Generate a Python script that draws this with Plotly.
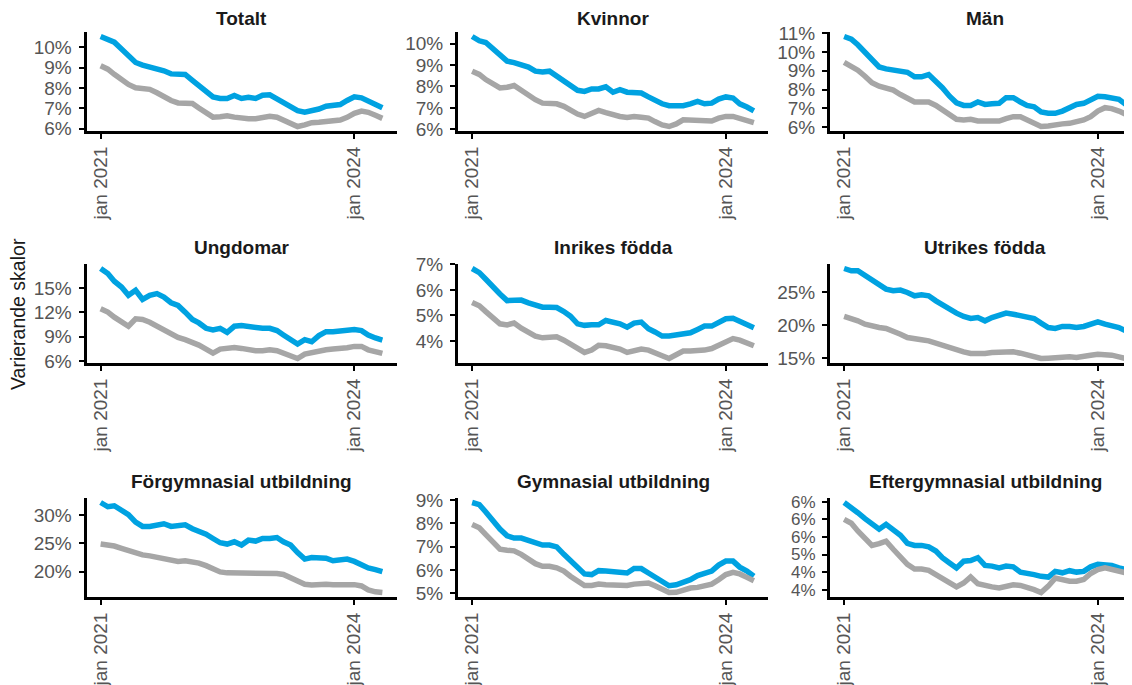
import pandas as pd
import plotly.graph_objects as go

# ---------------- data ----------------
months = pd.date_range("2021-01-01", "2024-05-01", freq="MS")
x_tick_vals = ["2021-01-01", "2024-01-01"]
x_tick_labels = ["jan 2021", "jan 2024"]

titles = ["Totalt", "Kvinnor", "Män",
          "Ungdomar", "Inrikes födda", "Utrikes födda",
          "Förgymnasial utbildning", "Gymnasial utbildning", "Eftergymnasial utbildning"]

blue_totalt = [10.53, 10.38, 10.25, 9.92, 9.58, 9.25, 9.12, 9.04, 8.97, 8.84, 8.69, 8.67, 8.66, 8.37,
               8.12, 7.79, 7.56, 7.48, 7.48, 7.63, 7.48, 7.54, 7.48, 7.64, 7.66, 7.46, 7.26, 7.10,
               6.88, 6.81, 6.85, 6.96, 7.10, 7.15, 7.18, 7.38, 7.56, 7.51, 7.34, 7.18, 7.02]
grey_totalt = [9.09, 8.92, 8.67, 8.42, 8.17, 8.01, 7.96, 7.93, 7.76, 7.54, 7.38, 7.26, 7.26, 7.23,
               7.01, 6.76, 6.56, 6.58, 6.63, 6.56, 6.51, 6.48, 6.48, 6.54, 6.60, 6.56, 6.43, 6.27,
               6.10, 6.18, 6.29, 6.31, 6.33, 6.35, 6.42, 6.55, 6.75, 6.86, 6.80, 6.65, 6.50]

blue_kvinnor = [10.33, 10.13, 10.05, 9.76, 9.50, 9.18, 9.11, 9.00, 8.90, 8.71, 8.67, 8.71, 8.48, 8.24,
                8.04, 7.82, 7.77, 7.88, 7.88, 7.98, 7.73, 7.85, 7.73, 7.74, 7.69, 7.51, 7.35, 7.19,
                7.10, 7.07, 7.10, 7.19, 7.30, 7.19, 7.22, 7.41, 7.51, 7.46, 7.19, 7.04, 6.86]
grey_kvinnor = [8.71, 8.56, 8.32, 8.09, 7.93, 7.96, 8.04, 7.82, 7.57, 7.38, 7.22, 7.22, 7.19, 7.07,
                6.88, 6.71, 6.60, 6.71, 6.88, 6.78, 6.67, 6.60, 6.55, 6.60, 6.56, 6.52, 6.36, 6.20,
                6.13, 6.25, 6.44, 6.44, 6.41, 6.39, 6.39, 6.52, 6.60, 6.60, 6.49, 6.39, 6.31]

blue_man = [10.82, 10.68, 10.38, 9.98, 9.59, 9.20, 9.10, 9.06, 9.03, 8.92, 8.68, 8.68, 8.80, 8.45,
            8.10, 7.65, 7.30, 7.16, 7.16, 7.34, 7.21, 7.25, 7.27, 7.57, 7.57, 7.34, 7.16, 7.09,
            6.81, 6.74, 6.74, 6.86, 7.04, 7.21, 7.27, 7.44, 7.65, 7.62, 7.57, 7.48, 7.21]
grey_man = [9.45, 9.27, 9.03, 8.71, 8.36, 8.18, 8.10, 7.97, 7.74, 7.51, 7.34, 7.34, 7.34, 7.16,
            6.92, 6.63, 6.42, 6.39, 6.42, 6.33, 6.33, 6.33, 6.33, 6.46, 6.56, 6.56, 6.42, 6.21,
            6.04, 6.07, 6.14, 6.18, 6.21, 6.28, 6.39, 6.56, 6.86, 7.04, 6.99, 6.86, 6.69]

blue_ungdomar = [17.39, 16.77, 15.82, 15.12, 14.09, 14.71, 13.59, 14.09, 14.30, 13.88, 13.18, 12.85,
                 12.03, 11.12, 10.70, 10.04, 9.84, 10.04, 9.55, 10.29, 10.37, 10.25, 10.04, 10.04,
                 10.04, 9.76, 9.22, 8.72, 8.10, 8.64, 8.39, 9.14, 9.63, 9.63, 9.76, 9.88, 9.88,
                 9.76, 9.22, 8.85, 8.60]
grey_ungdomar = [12.44, 12.03, 11.41, 10.79, 10.29, 11.20, 11.12, 10.79, 10.29, 9.76, 9.22, 8.93,
                 8.64, 8.31, 7.98, 7.49, 6.99, 7.49, 7.57, 7.69, 7.57, 7.40, 7.28, 7.28, 7.40, 7.28,
                 6.99, 6.66, 6.33, 6.87, 7.07, 7.28, 7.40, 7.49, 7.49, 7.65, 7.82, 7.82, 7.40,
                 7.20, 6.95]

blue_inrikes = [6.84, 6.68, 6.42, 6.10, 5.84, 5.58, 5.60, 5.60, 5.49, 5.38, 5.32, 5.32, 5.31, 5.15,
                4.97, 4.67, 4.61, 4.63, 4.63, 4.80, 4.74, 4.67, 4.54, 4.70, 4.74, 4.48, 4.35, 4.19,
                4.19, 4.22, 4.25, 4.32, 4.45, 4.58, 4.58, 4.71, 4.87, 4.89, 4.76, 4.67, 4.52]
grey_inrikes = [5.51, 5.38, 5.15, 4.89, 4.67, 4.63, 4.70, 4.50, 4.32, 4.19, 4.12, 4.16, 4.16, 4.03,
                3.86, 3.68, 3.55, 3.64, 3.83, 3.81, 3.75, 3.68, 3.55, 3.64, 3.68, 3.64, 3.51, 3.42,
                3.31, 3.47, 3.60, 3.60, 3.60, 3.64, 3.70, 3.83, 4.00, 4.09, 4.03, 3.90, 3.81]

blue_utrikes = [28.67, 28.32, 28.32, 27.55, 27.04, 26.28, 25.51, 25.26, 25.36, 25.00, 24.49, 24.64,
                24.49, 23.72, 23.06, 22.45, 21.84, 21.33, 21.02, 21.17, 20.66, 21.17, 21.53, 21.84,
                21.68, 21.43, 21.33, 21.02, 20.31, 19.64, 19.49, 19.80, 19.80, 19.64, 19.80, 20.26,
                20.51, 20.15, 19.90, 19.64, 19.13]
grey_utrikes = [21.33, 21.02, 20.66, 20.15, 19.80, 19.64, 19.49, 19.13, 18.62, 18.11, 17.86, 17.76,
                17.60, 17.24, 16.84, 16.43, 16.22, 15.92, 15.66, 15.56, 15.66, 15.82, 15.92, 15.92,
                15.92, 15.71, 15.41, 15.05, 14.90, 14.95, 15.05, 15.05, 15.15, 15.05, 15.15, 15.41,
                15.56, 15.56, 15.41, 15.15, 14.90]

blue_forgym = [32.20, 31.45, 31.62, 30.75, 30.06, 28.73, 27.98, 27.98, 28.32, 28.44, 27.98, 28.03,
               28.27, 27.57, 27.17, 26.59, 25.84, 25.09, 24.86, 25.26, 24.68, 25.55, 25.38, 25.84,
               25.84, 26.01, 25.26, 24.68, 23.35, 22.20, 22.49, 22.31, 22.37, 21.91, 21.97, 22.20,
               21.79, 21.21, 20.64, 20.35, 20.00]
grey_forgym = [24.86, 24.80, 24.51, 24.10, 23.70, 23.12, 22.95, 22.77, 22.54, 22.25, 21.97, 21.79,
               21.91, 21.79, 21.50, 21.04, 20.46, 19.94, 19.77, 19.77, 19.71, 19.65, 19.60, 19.71,
               19.71, 19.65, 19.48, 18.90, 18.32, 17.75, 17.63, 17.75, 17.75, 17.69, 17.69, 17.75,
               17.69, 17.46, 16.76, 16.42, 16.30]

blue_gym = [8.90, 8.81, 8.49, 8.10, 7.76, 7.47, 7.37, 7.37, 7.28, 7.18, 7.07, 7.07, 6.99, 6.67,
            6.41, 6.06, 5.83, 5.80, 5.97, 5.95, 5.92, 5.90, 5.87, 6.06, 6.06, 5.87, 5.68, 5.51,
            5.32, 5.36, 5.44, 5.58, 5.76, 5.83, 5.95, 6.21, 6.38, 6.38, 6.12, 5.95, 5.73]
grey_gym = [7.95, 7.81, 7.52, 7.18, 6.89, 6.85, 6.82, 6.67, 6.45, 6.27, 6.16, 6.16, 6.09, 5.95,
            5.73, 5.51, 5.33, 5.33, 5.39, 5.36, 5.33, 5.33, 5.33, 5.39, 5.44, 5.44, 5.32, 5.17,
            5.03, 5.04, 5.15, 5.22, 5.25, 5.29, 5.39, 5.58, 5.80, 5.90, 5.83, 5.68, 5.54]

blue_eftergym = [6.48, 6.34, 6.19, 6.02, 5.86, 5.72, 5.86, 5.72, 5.55, 5.32, 5.26, 5.26, 5.22, 5.10,
                 4.91, 4.76, 4.62, 4.81, 4.83, 4.91, 4.69, 4.67, 4.62, 4.67, 4.65, 4.50, 4.48, 4.43,
                 4.38, 4.36, 4.52, 4.48, 4.54, 4.50, 4.52, 4.65, 4.72, 4.72, 4.69, 4.62, 4.57]
grey_eftergym = [6.00, 5.89, 5.67, 5.45, 5.26, 5.31, 5.38, 5.15, 4.91, 4.72, 4.59, 4.59, 4.55, 4.43,
                 4.29, 4.17, 4.08, 4.19, 4.36, 4.17, 4.11, 4.08, 4.05, 4.11, 4.14, 4.12, 4.08, 4.00,
                 3.92, 4.10, 4.33, 4.27, 4.24, 4.24, 4.29, 4.46, 4.57, 4.62, 4.57, 4.51, 4.48]

y_ticks_totalt = [6, 7, 8, 9, 10]
y_ticks_kvinnor = [6, 7, 8, 9, 10]
y_ticks_man = [6, 7, 8, 9, 10, 11]
y_ticks_ungdomar = [6, 9, 12, 15]
y_ticks_inrikes = [4, 5, 6, 7]
y_ticks_utrikes = [15, 20, 25]
y_ticks_forgym = [20, 25, 30]
y_ticks_gym = [5, 6, 7, 8, 9]
y_ticks_eftergym = [4.0, 4.5, 5.0, 5.5, 6.0, 6.5]
y_labels_eftergym = ["4%", "4%", "5%", "6%", "6%", "6%"]

blue_series = [blue_totalt, blue_kvinnor, blue_man, blue_ungdomar, blue_inrikes, blue_utrikes,
               blue_forgym, blue_gym, blue_eftergym]
grey_series = [grey_totalt, grey_kvinnor, grey_man, grey_ungdomar, grey_inrikes, grey_utrikes,
               grey_forgym, grey_gym, grey_eftergym]
y_ticks = [y_ticks_totalt, y_ticks_kvinnor, y_ticks_man, y_ticks_ungdomar, y_ticks_inrikes,
           y_ticks_utrikes, y_ticks_forgym, y_ticks_gym, y_ticks_eftergym]
y_labels = [[f"{v:g}%" for v in t] for t in y_ticks[:8]] + [y_labels_eftergym]

# ---------------- layout / styling ----------------
PAGE_OFF = 8                     # default body margin of the html page
W, H = 1132 - PAGE_OFF, 685 - PAGE_OFF
BLUE = "#00a2e1"
GREY = "#a6a6a6"
FONT = "Liberation Sans, Arial, sans-serif"
TICK_COLOR = "#555555"

# positions in page pixels
col_x0 = [86.5, 458, 830]
panel_w = 310
row_y0 = [32, 264, 498]
panel_h = 99

x_start = months[0] - pd.Timedelta(days=61)
x_end_full = months[-1] + pd.Timedelta(days=61)
total_days = (x_end_full - x_start).days


def fx(px):
    return (px - PAGE_OFF) / W


def fy(py):
    return 1 - (py - PAGE_OFF) / H


fig = go.Figure()
annotations = []

for i in range(9):
    r, c = divmod(i, 3)
    n = i + 1
    xa = "x" if n == 1 else f"x{n}"
    ya = "y" if n == 1 else f"y{n}"

    x0 = col_x0[c]
    x1 = x0 + panel_w
    if x1 > W + PAGE_OFF:
        vis = W + PAGE_OFF - x0
        x_end = x_start + pd.Timedelta(days=total_days * vis / panel_w)
        x1 = W + PAGE_OFF
    else:
        x_end = x_end_full
    y_top = row_y0[r]
    y_bot = y_top + panel_h

    fig.add_trace(go.Scatter(x=months, y=blue_series[i], mode="lines", name="Serie 1",
                             line=dict(color=BLUE, width=5.5), xaxis=xa, yaxis=ya,
                             showlegend=False))
    fig.add_trace(go.Scatter(x=months, y=grey_series[i], mode="lines", name="Serie 2",
                             line=dict(color=GREY, width=5.5), xaxis=xa, yaxis=ya,
                             showlegend=False))

    lo = min(min(blue_series[i]), min(grey_series[i]))
    hi = max(max(blue_series[i]), max(grey_series[i]))
    pad = 0.05 * (hi - lo)

    ysize = 17 if i == 8 else 19
    xkey = "xaxis" if n == 1 else f"xaxis{n}"
    ykey = "yaxis" if n == 1 else f"yaxis{n}"
    fig.layout[xkey] = dict(
        domain=[fx(x0), min(1.0, fx(x1))], anchor=ya, type="date",
        range=[x_start, x_end], automargin=False,
        tickvals=x_tick_vals, ticktext=x_tick_labels, tickangle=-90,
        showline=True, linecolor="black", linewidth=3,
        ticks="outside", ticklen=5, tickwidth=2, tickcolor="black",
        showgrid=False, zeroline=False, ticklabelstandoff=0,
        tickfont=dict(family=FONT, size=19, color=TICK_COLOR),
    )
    fig.layout[ykey] = dict(
        domain=[fy(y_bot), fy(y_top)], anchor=xa, automargin=False,
        range=[lo - pad, hi + pad], tickvals=y_ticks[i], ticktext=y_labels[i],
        showline=True, linecolor="black", linewidth=3,
        ticks="outside", ticklen=5, tickwidth=2, tickcolor="black",
        showgrid=False, zeroline=False, ticklabelstandoff=3,
        tickfont=dict(family=FONT, size=ysize, color=TICK_COLOR),
    )

    title_y = max(y_top - 17, 18)
    annotations.append(dict(
        text=f"<b>{titles[i]}</b>", xref="paper", yref="paper",
        x=fx(col_x0[c] + panel_w / 2), y=fy(title_y),
        xanchor="center", yanchor="middle", showarrow=False,
        font=dict(family=FONT, size=19, color="#1a1a1a"),
    ))

annotations.append(dict(
    text="Varierande skalor", xref="paper", yref="paper",
    x=fx(18), y=fy(314), xanchor="center", yanchor="middle",
    textangle=-90, showarrow=False,
    font=dict(family=FONT, size=19.5, color="#1a1a1a"),
))

fig.update_layout(
    width=W, height=H,
    margin=dict(l=0, r=0, t=0, b=0, autoexpand=False),
    paper_bgcolor="white", plot_bgcolor="white",
    annotations=annotations,
    showlegend=False,
)

fig.write_html("out.html")
